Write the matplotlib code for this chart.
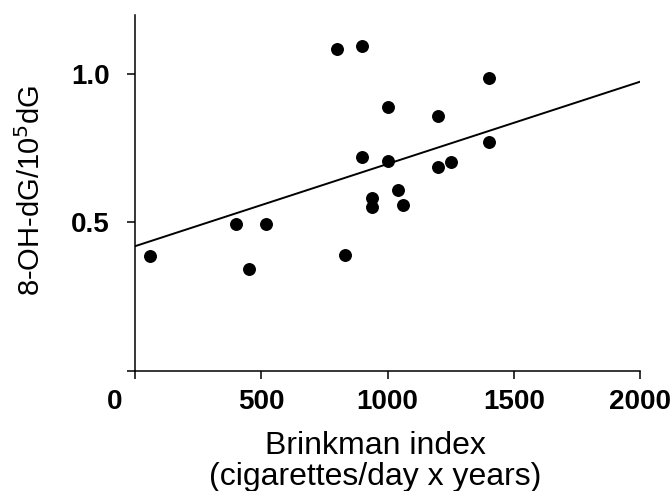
import matplotlib.pyplot as plt
import matplotlib.transforms as mtransforms

plt.rcParams['font.family'] = ['Liberation Sans', 'DejaVu Sans']

# Brinkman index vs 8-OH-dG level, one point per subject
brinkman = [60, 400, 520, 450, 800, 900, 830, 1400, 1000, 1200,
            1400, 900, 1000, 1200, 1250, 1040, 940, 940, 1060]
ohdg = [0.386, 0.494, 0.494, 0.344, 1.084, 1.095, 0.390, 0.987, 0.888, 0.859,
        0.772, 0.720, 0.709, 0.686, 0.703, 0.610, 0.583, 0.553, 0.558]

# regression line end points
fit_x = [0, 2000]
fit_y = [0.42, 0.975]

x_ticks = [0, 500, 1000, 1500, 2000]
y_ticks = [0, 0.5, 1.0]
y_tick_labels = ['', '0.5', '1.0']

fig = plt.figure(figsize=(6.7, 4.91), dpi=100)
ax = fig.add_axes([0.2015, 0.245, 0.754, 0.7245])

ax.plot(brinkman, ohdg, 'o', color='black', markersize=8.3, clip_on=False)
ax.plot(fit_x, fit_y, '-', color='black', linewidth=1.4)

ax.set_xlim(0, 2000)
ax.set_ylim(0, 1.2)
ax.set_xticks(x_ticks)
ax.set_yticks(y_ticks)
ax.set_yticklabels(y_tick_labels)

for side in ['top', 'right']:
    ax.spines[side].set_visible(False)
for side in ['left', 'bottom']:
    ax.spines[side].set_linewidth(1.1)

ax.tick_params(axis='x', direction='out', length=5.5, width=1.1, pad=7.5,
               labelsize=20)
ax.tick_params(axis='y', direction='out', length=5.5, width=1.1, pad=12.5,
               labelsize=20)
for lbl in ax.get_xticklabels() + ax.get_yticklabels():
    lbl.set_fontweight('bold')

# the origin label sits a little to the left of its tick
first = ax.get_xticklabels()[0]
first.set_transform(first.get_transform() +
                    mtransforms.ScaledTranslation(-20 / 100, 0, fig.dpi_scale_trans))

ax.set_xlabel('Brinkman index\n(cigarettes/day x years)', fontsize=23,
              linespacing=1.05)
ax.xaxis.set_label_coords(0.475, -0.17)
ax.set_ylabel('8-OH-dG/10$^5$dG', fontsize=21)
ax.yaxis.set_label_coords(-0.176, 0.508)

fig.savefig('out.png', dpi=100)
